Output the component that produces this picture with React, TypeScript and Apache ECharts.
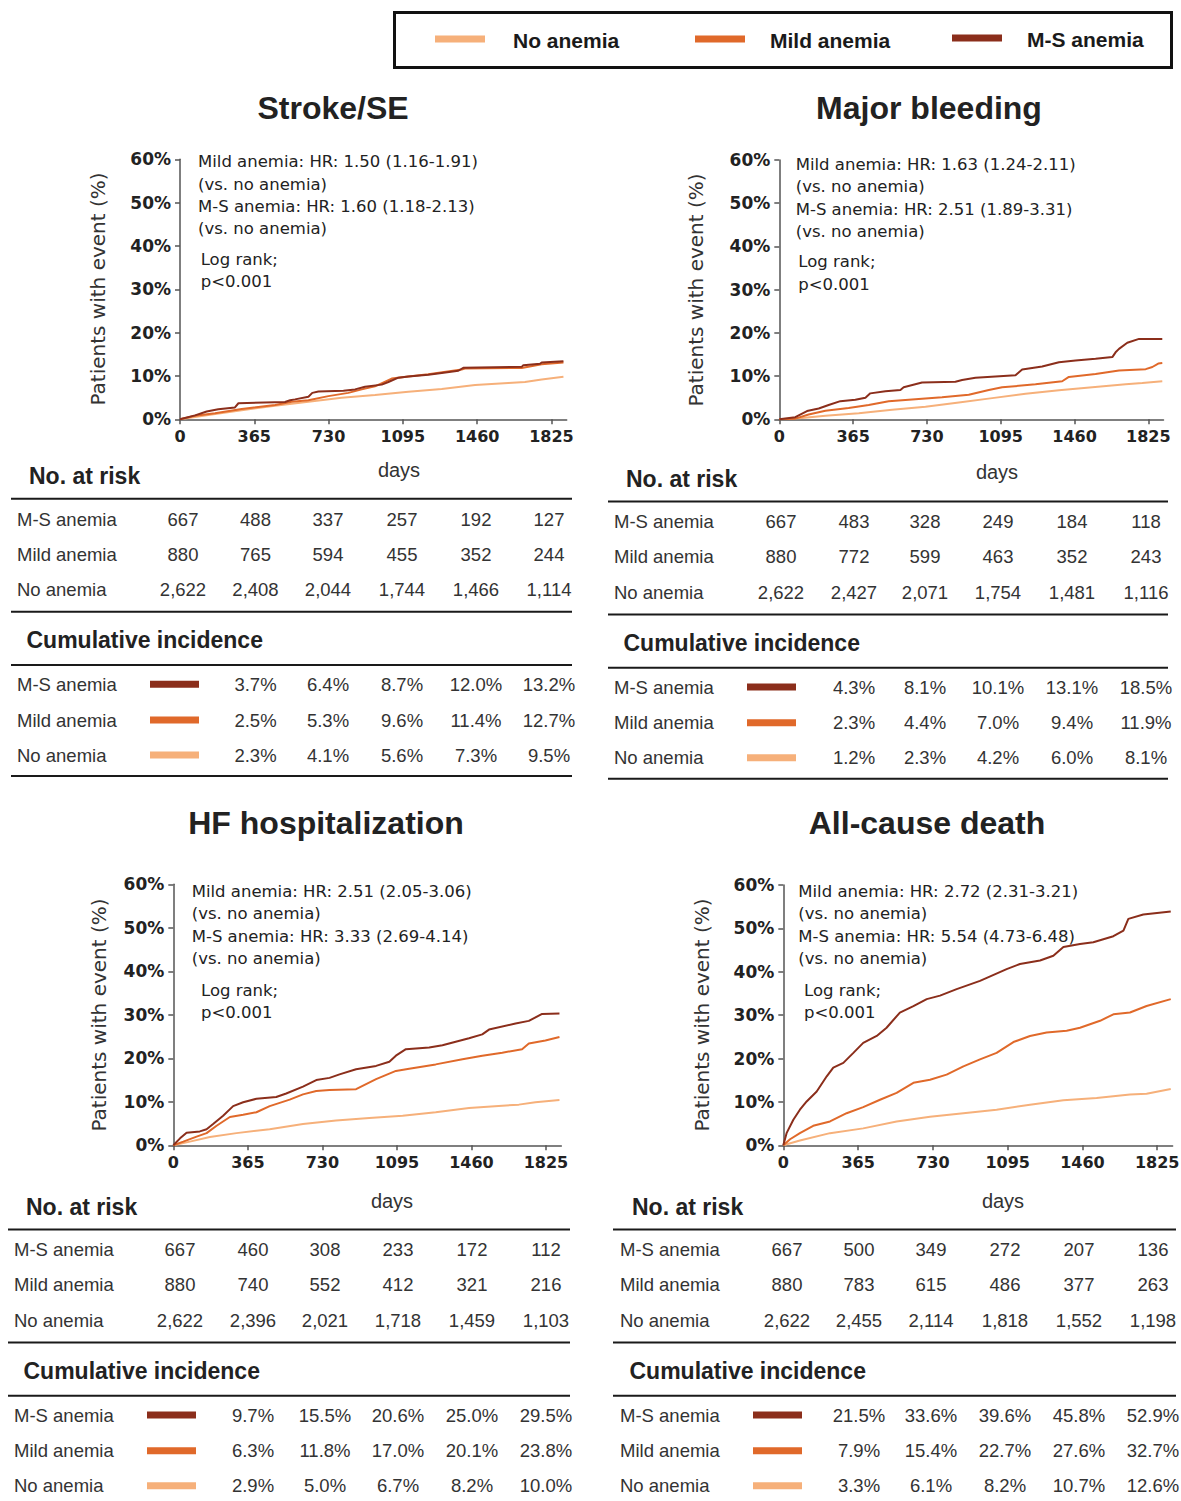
import React, { useEffect, useRef } from 'react';
import * as echarts from 'echarts';

// ---------- data ----------
const GROUPS = ['M-S anemia', 'Mild anemia', 'No anemia'];
const GROUP_COLORS = ['#8B2E1B', '#E0692A', '#F6B07A'];
const LEGEND_ORDER = ['No anemia', 'Mild anemia', 'M-S anemia'];
const X_TICKS = [0, 365, 730, 1095, 1460, 1825];
const Y_TICKS = [0, 10, 20, 30, 40, 50, 60];

const TITLES = ['Stroke/SE', 'Major bleeding', 'HF hospitalization', 'All-cause death'];
const HR_TEXT = [
  ['Mild anemia: HR: 1.50 (1.16-1.91)', '(vs. no anemia)', 'M-S anemia: HR: 1.60 (1.18-2.13)', '(vs. no anemia)'],
  ['Mild anemia: HR: 1.63 (1.24-2.11)', '(vs. no anemia)', 'M-S anemia: HR: 2.51 (1.89-3.31)', '(vs. no anemia)'],
  ['Mild anemia: HR: 2.51 (2.05-3.06)', '(vs. no anemia)', 'M-S anemia: HR: 3.33 (2.69-4.14)', '(vs. no anemia)'],
  ['Mild anemia: HR: 2.72 (2.31-3.21)', '(vs. no anemia)', 'M-S anemia: HR: 5.54 (4.73-6.48)', '(vs. no anemia)'],
];
const LOG_RANK = ['Log rank;', 'p<0.001'];

// Stroke/SE curves [day, %]
const STROKE_MS = [[0,0],[74,0.9],[131,1.8],[188,2.3],[270,2.75],[287,3.7],[516,4.0],[541,4.4],[565,4.6],[631,5.2],[650,6.1],[680,6.4],[803,6.6],[860,6.9],[909,7.5],[991,8.0],[1024,8.6],[1073,9.6],[1122,9.9],[1220,10.3],[1286,10.7],[1368,11.2],[1392,11.9],[1679,12.1],[1687,12.5],[1769,12.8],[1777,13.1],[1884,13.4]];
const STROKE_MILD = [[0,0],[74,0.8],[172,1.4],[303,2.4],[467,3.3],[549,4.05],[631,4.4],[729,5.35],[827,6.1],[893,6.9],[958,7.6],[1040,9.4],[1122,9.9],[1220,10.4],[1384,11.5],[1400,11.7],[1679,11.85],[1777,12.7],[1884,13.1]];
const STROKE_NO = [[0,0],[139,1.0],[303,2.1],[467,3.1],[631,4.05],[794,5.0],[958,5.6],[1122,6.35],[1286,7.0],[1450,7.9],[1613,8.4],[1695,8.6],[1777,9.2],[1884,9.8]];

// Major bleeding curves
const BLEED_MS = [[0,0],[79,0.5],[137,1.9],[195,2.5],[244,3.3],[302,4.2],[376,4.5],[426,5.0],[450,6.0],[525,6.5],[599,6.8],[615,7.4],[706,8.5],[871,8.7],[904,9.1],[970,9.6],[1168,10.2],[1201,11.5],[1300,12.2],[1383,13.2],[1465,13.6],[1564,14.0],[1647,14.4],[1663,15.5],[1680,16.3],[1721,17.7],[1779,18.6],[1894,18.6]];
const BLEED_MILD = [[0,0],[79,0.15],[145,1.1],[228,2.0],[343,2.6],[442,3.3],[541,4.2],[673,4.65],[805,5.1],[937,5.7],[1036,6.8],[1102,7.4],[1267,8.1],[1399,8.8],[1432,9.8],[1564,10.5],[1680,11.3],[1812,11.6],[1845,12.1],[1874,12.9],[1894,13.0]];
const BLEED_NO = [[0,0],[112,0.3],[228,0.8],[393,1.4],[558,2.2],[723,2.9],[888,3.9],[1053,4.9],[1218,5.9],[1383,6.7],[1548,7.4],[1713,8.1],[1795,8.4],[1894,8.8]];

// HF hospitalization curves
const HF_MS = [[0,0],[33,1.6],[65,2.9],[130,3.2],[163,3.7],[195,4.9],[244,6.8],[293,9.0],[342,9.9],[407,10.7],[504,11.1],[553,11.9],[635,13.5],[700,15.0],[765,15.5],[814,16.3],[895,17.5],[993,18.25],[1058,19.2],[1090,20.6],[1139,22.1],[1253,22.5],[1318,23.0],[1383,23.8],[1448,24.6],[1513,25.5],[1546,26.6],[1676,28.0],[1741,28.6],[1806,30.2],[1891,30.3]];
const HF_MILD = [[0,0],[49,0.85],[114,2.0],[163,2.8],[212,4.5],[277,6.5],[342,7.0],[407,7.6],[472,9.0],[570,10.5],[635,11.7],[700,12.5],[765,12.7],[895,12.9],[993,15.2],[1090,17.1],[1155,17.6],[1285,18.6],[1416,19.8],[1513,20.6],[1611,21.3],[1708,22.1],[1741,23.4],[1822,24.1],[1891,24.9]];
const HF_NO = [[0,0],[81,0.85],[179,1.9],[309,2.8],[472,3.7],[635,4.9],[797,5.7],[960,6.3],[1123,6.8],[1285,7.6],[1448,8.6],[1611,9.1],[1692,9.35],[1773,9.9],[1891,10.4]];

// All-cause death curves
const DEATH_MS = [[0,0],[16,2.8],[49,5.9],[81,8.2],[114,10.1],[163,12.4],[212,15.9],[244,17.9],[293,19.0],[342,21.3],[390,23.6],[456,25.2],[504,27.1],[569,30.6],[635,32.1],[700,33.7],[765,34.5],[846,36.0],[960,37.9],[1090,40.6],[1155,41.8],[1253,42.6],[1318,43.7],[1367,45.7],[1448,46.4],[1513,46.8],[1611,48.2],[1660,49.5],[1684,52.2],[1757,53.2],[1891,53.9]];
const DEATH_MILD = [[0,0],[33,1.4],[81,2.8],[146,4.5],[228,5.5],[309,7.4],[390,8.8],[472,10.5],[553,12.1],[635,14.4],[716,15.1],[797,16.3],[879,18.2],[960,19.8],[1041,21.3],[1123,23.8],[1204,25.2],[1285,26.0],[1383,26.4],[1448,27.1],[1546,28.7],[1611,30.2],[1692,30.6],[1773,32.1],[1891,33.7]];
const DEATH_NO = [[0,0],[81,1.1],[228,2.8],[390,3.9],[553,5.5],[716,6.6],[879,7.4],[1041,8.2],[1204,9.35],[1367,10.4],[1529,10.9],[1692,11.7],[1773,11.9],[1891,13.0]];

// Numbers at risk (rows: M-S, Mild, No)
const STROKE_RISK = [[667,488,337,257,192,127],[880,765,594,455,352,244],[2622,2408,2044,1744,1466,1114]];
const BLEED_RISK = [[667,483,328,249,184,118],[880,772,599,463,352,243],[2622,2427,2071,1754,1481,1116]];
const HF_RISK = [[667,460,308,233,172,112],[880,740,552,412,321,216],[2622,2396,2021,1718,1459,1103]];
const DEATH_RISK = [[667,500,349,272,207,136],[880,783,615,486,377,263],[2622,2455,2114,1818,1552,1198]];

// Cumulative incidence (%) at 365..1825 (rows: M-S, Mild, No)
const STROKE_CUM = [[3.7,6.4,8.7,12.0,13.2],[2.5,5.3,9.6,11.4,12.7],[2.3,4.1,5.6,7.3,9.5]];
const BLEED_CUM = [[4.3,8.1,10.1,13.1,18.5],[2.3,4.4,7.0,9.4,11.9],[1.2,2.3,4.2,6.0,8.1]];
const HF_CUM = [[9.7,15.5,20.6,25.0,29.5],[6.3,11.8,17.0,20.1,23.8],[2.9,5.0,6.7,8.2,10.0]];
const DEATH_CUM = [[21.5,33.6,39.6,45.8,52.9],[7.9,15.4,22.7,27.6,32.7],[3.3,6.1,8.2,10.7,12.6]];

const CURVES = [
  [STROKE_MS, STROKE_MILD, STROKE_NO],
  [BLEED_MS, BLEED_MILD, BLEED_NO],
  [HF_MS, HF_MILD, HF_NO],
  [DEATH_MS, DEATH_MILD, DEATH_NO],
];
const RISK = [STROKE_RISK, BLEED_RISK, HF_RISK, DEATH_RISK];
const CUM = [STROKE_CUM, BLEED_CUM, HF_CUM, DEATH_CUM];

// ---------- layout ----------
const LAYOUT = [
  { titleX: 333, titleY: 108, grid: { left: 180, top: 159.3, width: 386.7, height: 260 }, nameX: 98, nameY: 289,
    annX: 198, annY: [161.7, 184, 206, 228.3], lrX: 200.7, lrY: [259, 281.7], daysX: 399, daysY: 470,
    tbl: { x1: 11, x2: 572, labelX: 17, headX: 29, line1: 498.7, cols: [183, 255.5, 328, 402, 476, 549], sw: [150, 199] } },
  { titleX: 929, titleY: 108, grid: { left: 779.3, top: 160, width: 384.2, height: 259.3 }, nameX: 696, nameY: 290,
    annX: 795.7, annY: [164, 186, 209, 231], lrX: 798.3, lrY: [261.7, 284], daysX: 997, daysY: 472,
    tbl: { x1: 608, x2: 1168, labelX: 614, headX: 626, line1: 501.5, cols: [781, 854, 925, 998, 1072, 1146], sw: [747, 796] } },
  { titleX: 326, titleY: 823, grid: { left: 173.3, top: 884.3, width: 388, height: 261 }, nameX: 99, nameY: 1015,
    annX: 191.7, annY: [891, 913.3, 936, 958.3], lrX: 201, lrY: [990, 1012.7], daysX: 392, daysY: 1201,
    tbl: { x1: 8, x2: 570, labelX: 14, headX: 26, line1: 1229.5, cols: [180, 253, 325, 398, 472, 546], sw: [147, 196] } },
  { titleX: 927, titleY: 823, grid: { left: 783.3, top: 885, width: 389.3, height: 260.3 }, nameX: 702, nameY: 1015,
    annX: 798.3, annY: [891, 913.3, 936, 958.3], lrX: 804, lrY: [990, 1012.7], daysX: 1003, daysY: 1201,
    tbl: { x1: 613, x2: 1176, labelX: 620, headX: 632, line1: 1229.5, cols: [787, 859, 931, 1005, 1079, 1153], sw: [753, 802] } },
];

const SANS = "'Liberation Sans', Arial, Helvetica, sans-serif";
const VERD = "'DejaVu Sans', Verdana, sans-serif";
const AXIS_COLOR = '#555';

function txt(text: string, x: number, y: number, font: string, align = 'left', fill = '#222', rotation = 0) {
  return {
    type: 'text', x, y, rotation, silent: true, z: 10,
    style: { text, font, fill, align, verticalAlign: 'middle', textAlign: align, textVerticalAlign: 'middle' },
  };
}
function hline(x1: number, x2: number, y: number, w = 2) {
  return { type: 'line', silent: true, shape: { x1, y1: y, x2, y2: y }, style: { stroke: '#1a1a1a', lineWidth: w } };
}
function swatch(x1: number, x2: number, y: number, color: string, h = 7) {
  return { type: 'rect', silent: true, shape: { x: x1, y: y - h / 2, width: x2 - x1, height: h }, style: { fill: color } };
}

function buildOption() {
  const grids: any[] = [];
  const xAxes: any[] = [];
  const yAxes: any[] = [];
  const series: any[] = [];
  const graphics: any[] = [];

  LAYOUT.forEach((L, i) => {
    grids.push({ ...L.grid, containLabel: false, outerBoundsMode: 'none' });
    xAxes.push({
      type: 'value', gridIndex: i, min: 0, max: 1900,
      axisLine: { show: true, lineStyle: { color: AXIS_COLOR, width: 1.5 } },
      axisTick: { show: true, customValues: X_TICKS, length: 5, lineStyle: { color: AXIS_COLOR, width: 1.5 } },
      axisLabel: {
        customValues: X_TICKS, formatter: (v: number) => String(v),
        fontFamily: VERD, fontWeight: 'bold', fontSize: 16, color: '#222', margin: 9,
      },
      splitLine: { show: false },
    });
    yAxes.push({
      type: 'value', gridIndex: i, min: Y_TICKS[0], max: Y_TICKS[Y_TICKS.length - 1], interval: 10,
      axisLine: { show: true, lineStyle: { color: AXIS_COLOR, width: 1.5 } },
      axisTick: { show: true, length: 5, lineStyle: { color: AXIS_COLOR, width: 1.5 } },
      axisLabel: { formatter: '{value}%', fontFamily: VERD, fontWeight: 'bold', fontSize: 17, color: '#222', margin: 9 },
      splitLine: { show: false },
    });
    [2, 1, 0].forEach((g) => {
      series.push({
        type: 'line', name: GROUPS[g], xAxisIndex: i, yAxisIndex: i,
        data: CURVES[i][g], showSymbol: false, symbol: 'none',
        lineStyle: { color: GROUP_COLORS[g], width: 2 }, itemStyle: { color: GROUP_COLORS[g] },
        emphasis: { disabled: true }, silent: true,
      });
    });

    graphics.push(txt(TITLES[i], L.titleX, L.titleY, `bold 32px ${SANS}`, 'center', '#222'));
    HR_TEXT[i].forEach((t, k) => graphics.push(txt(t, L.annX, L.annY[k], `16.5px ${VERD}`)));
    LOG_RANK.forEach((t, k) => graphics.push(txt(t, L.lrX, L.lrY[k], `16.5px ${VERD}`)));
    graphics.push(txt('Patients with event (%)', L.nameX, L.nameY, `20px ${VERD}`, 'center', '#333', Math.PI / 2));
    graphics.push(txt('days', L.daysX, L.daysY, `20px ${SANS}`, 'center', '#333'));

    const T = L.tbl;
    const l1 = T.line1;
    graphics.push(txt('No. at risk', T.headX, l1 - 23, `bold 23px ${SANS}`, 'left', '#222'));
    graphics.push(hline(T.x1, T.x2, l1));
    const riskRows = [l1 + 20.3, l1 + 55.3, l1 + 90.5];
    GROUPS.forEach((g, r) => {
      graphics.push(txt(g, T.labelX, riskRows[r], `18.5px ${SANS}`, 'left', '#333'));
      RISK[i][r].forEach((v, c) => {
        graphics.push(txt(v.toLocaleString('en-US'), T.cols[c], riskRows[r], `18.5px ${SANS}`, 'center', '#333'));
      });
    });
    graphics.push(hline(T.x1, T.x2, l1 + 113));
    graphics.push(txt('Cumulative incidence', T.headX - 2.5, l1 + 141.6, `bold 23px ${SANS}`, 'left', '#222'));
    graphics.push(hline(T.x1, T.x2, l1 + 166.3));
    const cumRows = [l1 + 185.6, l1 + 221.3, l1 + 256.3];
    GROUPS.forEach((g, r) => {
      graphics.push(txt(g, T.labelX, cumRows[r], `18.5px ${SANS}`, 'left', '#333'));
      graphics.push(swatch(T.sw[0], T.sw[1], cumRows[r], GROUP_COLORS[r]));
      CUM[i][r].forEach((v, c) => {
        graphics.push(txt(v.toFixed(1) + '%', T.cols[c + 1], cumRows[r], `18.5px ${SANS}`, 'center', '#333'));
      });
    });
    graphics.push(hline(T.x1, T.x2, l1 + 277.3));
  });

  graphics.push({ type: 'rect', silent: true, shape: { x: 394.5, y: 12.5, width: 777, height: 55 },
    style: { fill: 'none', stroke: '#111', lineWidth: 3 } });
  const legSw = [[435, 485, 39], [695, 745, 39], [952, 1002, 38]];
  const legTx = [513, 770, 1027];
  LEGEND_ORDER.forEach((name, k) => {
    const color = GROUP_COLORS[GROUPS.indexOf(name)];
    graphics.push(swatch(legSw[k][0], legSw[k][1], legSw[k][2], color, 7));
    graphics.push(txt(name, legTx[k], legSw[k][2] + 1, `bold 21px ${SANS}`, 'left', '#1a1a1a'));
  });

  return {
    animation: false,
    backgroundColor: '#ffffff',
    grid: grids,
    xAxis: xAxes,
    yAxis: yAxes,
    series,
    graphic: { elements: graphics },
  };
}

export default function App() {
  const ref = useRef<HTMLDivElement>(null);
  useEffect(() => {
    if (!ref.current) return;
    const chart = echarts.init(ref.current, null, { renderer: 'svg', width: 1181, height: 1501 });
    chart.setOption(buildOption() as any);
    return () => chart.dispose();
  }, []);
  return (
    <div
      ref={ref}
      style={{ position: 'absolute', left: 0, top: 0, width: 1181, height: 1501, background: '#fff' }}
    />
  );
}
